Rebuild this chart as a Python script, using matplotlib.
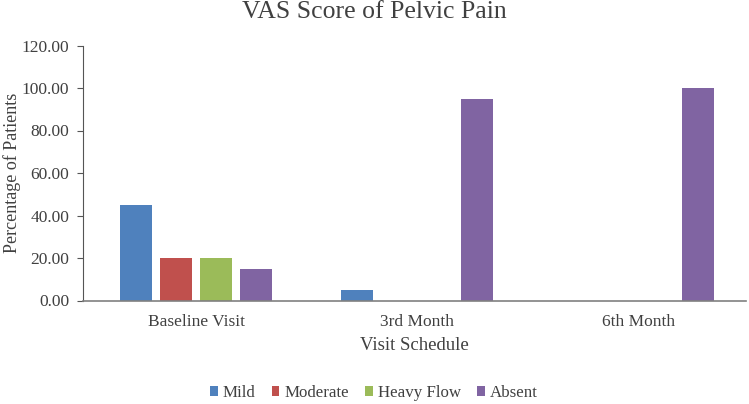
import matplotlib
matplotlib.use("Agg")
import matplotlib.pyplot as plt
import numpy as np

categories = ["Baseline Visit", "3rd Month", "6th Month"]
series_names = ["Mild", "Moderate", "Heavy Flow", "Absent"]
mild = [45, 5, 0]
moderate = [20, 0, 0]
heavy_flow = [20, 0, 0]
absent = [15, 95, 100]
colors = ["#4F81BD", "#C0504D", "#9BBB59", "#8064A2"]
yticks = [0, 20, 40, 60, 80, 100, 120]

plt.rcParams['font.family'] = ['Liberation Serif', 'DejaVu Serif']

fig = plt.figure(figsize=(7.49, 4.04), dpi=100)
ax = fig.add_axes([83/749, 1-300.5/404, (746-83)/749, (300.5-45.5)/404])

x = np.arange(len(categories))
pitch = 0.181
width = 0.145
for j, (name, vals) in enumerate(zip(series_names, [mild, moderate, heavy_flow, absent])):
    ax.bar(x + (j - 1.5) * pitch, vals, width, color=colors[j], label=name)

ax.set_xlim(-0.512, 2.488)
ax.set_ylim(0, 120)
ax.set_yticks(yticks)
ax.set_yticklabels([f"{v:.2f}" for v in yticks], fontsize=12.5, color="#404040")
ax.set_xticks(x)
ax.set_xticklabels(categories, fontsize=12.5, color="#404040")
ax.tick_params(axis='x', length=0, pad=10)
ax.tick_params(axis='y', length=4, color="#555555", pad=6)
for s in ["top", "right"]:
    ax.spines[s].set_visible(False)
ax.spines["left"].set_color("#555555")
ax.spines["bottom"].set_color("#808080")
ax.spines["bottom"].set_linewidth(1.2)

ax.set_xlabel("Visit Schedule", fontsize=13.5, color="#404040", labelpad=5)
ax.set_ylabel("Percentage of Patients", fontsize=13, color="#404040")
ax.yaxis.set_label_coords((21 - 83) / 663, 0.5)
fig.text(0.5, 1 - 12/404, "VAS Score of Pelvic Pain", fontsize=18.5, color="#404040",
         ha="center", va="center")

ax.legend(loc="center", bbox_to_anchor=(374/749, 1 - 393/404), bbox_transform=fig.transFigure,
          ncol=4, frameon=False,
          fontsize=12.2, handlelength=0.45, handleheight=0.45, handletextpad=0.3,
          columnspacing=0.95, labelcolor="#404040", borderpad=0)

fig.savefig("out.png", dpi=100)
